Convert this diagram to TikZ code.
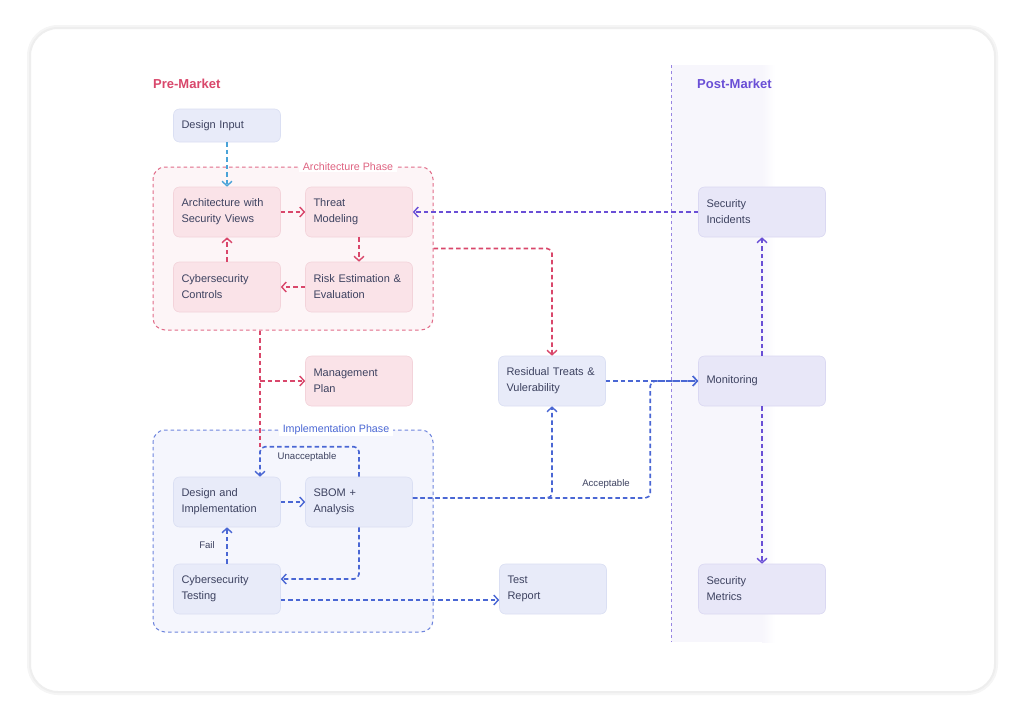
\documentclass[tikz,border=0pt]{standalone}
\usepackage{fontspec}
\setmainfont{Liberation Sans}
\usetikzlibrary{arrows.meta,positioning,calc}
\definecolor{txt}{HTML}{3D4260}
\definecolor{pinkln}{HTML}{D9476B}
\definecolor{bluln}{HTML}{4A67D4}
\definecolor{purln}{HTML}{6A4FD6}
\definecolor{skyln}{HTML}{4AA3D8}
\definecolor{pinkfill}{HTML}{FAE3E8}
\definecolor{pinkbord}{HTML}{F3D3DA}
\definecolor{bluefill}{HTML}{E8EBF9}
\definecolor{bluebord}{HTML}{DADFF3}
\definecolor{postfill}{HTML}{E8E7F8}
\definecolor{postbord}{HTML}{DAD8F2}
\definecolor{archbg}{HTML}{FDF5F7}
\definecolor{implbg}{HTML}{F5F6FD}
\definecolor{postbg}{HTML}{F7F6FC}
\definecolor{cardbord}{HTML}{EEEEEE}
\tikzset{
  nbox/.style={rounded corners=6pt, minimum height=50pt, text width=91pt, inner xsep=8pt, inner ysep=0pt,
     align=left, font=\fontsize{11}{16}\selectfont, text=txt, line width=0.6pt},
  pbox/.style={nbox, fill=pinkfill, draw=pinkbord},
  bbox/.style={nbox, fill=bluefill, draw=bluebord},
  wbox/.style={nbox, fill=postfill, draw=postbord, text width=111pt},
  phase/.style={rounded corners=12pt, dash pattern=on 3.5pt off 3pt, line width=1pt},
  conn/.style={dash pattern=on 4.5pt off 3pt, line width=1.6pt, -{Straight Barb[length=4.5pt,width=10pt,line width=1.4pt]}},
  connl/.style={dash pattern=on 4.5pt off 3pt, line width=1.6pt},
  small/.style={font=\fontsize{9.6}{11}\selectfont, text=txt, inner sep=1pt},
  phlabel/.style={font=\fontsize{10.7}{12}\selectfont, fill=white, inner xsep=4pt, inner ysep=1pt},
}
\begin{document}
\begin{tikzpicture}[x=1pt,y=-1pt]
\path[use as bounding box, fill=white] (0,0) rectangle (1024,720);
% card
\draw[draw=cardbord!60, line width=6pt, rounded corners=28pt] (30,28) rectangle (995,692);
\draw[draw=cardbord, fill=white, line width=2pt, rounded corners=28pt] (30,28) rectangle (995,692);
% post market band
\fill[postbg] (671,65) rectangle (762,642);
\shade[left color=postbg, right color=white] (762,65) rectangle (775,642);
\draw[purln!70, dash pattern=on 3pt off 3pt, line width=1pt] (671,65) -- (671,642);
% titles
\node[font=\bfseries\fontsize{13}{15}\selectfont, text=pinkln, anchor=west, inner sep=0pt] (pre) at (153,84) {Pre-Market};
\node[font=\bfseries\fontsize{13}{15}\selectfont, text=purln, anchor=west, inner sep=0pt] (post) at (697,84) {Post-Market};
% phases
\node[phase, draw=pinkln!80, fill=archbg, minimum width=280pt, minimum height=163pt] (archphase) at (293,248.5) {};
\node[phase, draw=bluln!80, fill=implbg, minimum width=280pt, minimum height=202pt] (implphase) at (293,531) {};
\node[phlabel, text=pinkln!85] (archlbl) at (348,167) {Architecture Phase};
\node[phlabel, text=bluln] (impllbl) at (336,430) {Implementation Phase};
% nodes
\node[bbox, minimum height=33pt] (desin) at (227,125.5) {Design Input};
\node[pbox] (archsv) at (227,212) {Architecture with\\Security Views};
\node[pbox] (threat) at (359,212) {Threat\\Modeling};
\node[pbox] (controls) at (227,287) {Cybersecurity\\Controls};
\node[pbox] (risk) at (359,287) {Risk Estimation \&\\Evaluation};
\node[pbox] (mgmt) at (359,381) {Management\\Plan};
\node[bbox] (desimpl) at (227,502) {Design and\\Implementation};
\node[bbox] (sbom) at (359,502) {SBOM +\\Analysis};
\node[bbox] (cstest) at (227,589) {Cybersecurity\\Testing};
\node[bbox] (testrep) at (553,589) {Test\\Report};
\node[bbox] (resid) at (552,381) {Residual Treats \&\\Vulerability};
\node[wbox] (secinc) at (762,212) {Security\\Incidents};
\node[wbox] (monitor) at (762,381) {Monitoring};
\node[wbox] (metrics) at (762,589) {Security\\Metrics};
\coordinate (dtop) at ([xshift=-20.8pt]desimpl.north east);
% connectors
\draw[conn, skyln] (desin.south) -- (archsv.north);
\draw[conn, pinkln] (archsv.east) -- (threat.west);
\draw[conn, pinkln] (threat.south) -- (risk.north);
\draw[conn, pinkln] (risk.west) -- (controls.east);
\draw[conn, pinkln] (controls.north) -- (archsv.south);
\draw[conn, purln] (secinc.west) -- (threat.east);
\draw[conn, pinkln, rounded corners=5pt] (archphase.east) -| (resid.north);
\draw[connl, pinkln] (archphase.south -| dtop) -- ([yshift=30pt]dtop);
\draw[conn, pinkln] (mgmt.west -| dtop) -- (mgmt.west);
\draw[conn, bluln, rounded corners=5pt] (sbom.north) |- ([yshift=30pt]dtop) -- (dtop);
\draw[conn, bluln] (desimpl.east) -- (sbom.west);
\draw[conn, bluln, rounded corners=5pt] ([yshift=4pt]sbom.east) -| (resid.south);
\draw[conn, bluln, rounded corners=5pt] ([yshift=4pt]sbom.east) -| ([xshift=-48pt]monitor.west) -- (monitor.west);
\draw[conn, bluln] (resid.east) -- (monitor.west);
\draw[conn, bluln, rounded corners=5pt] (sbom.south) |- ([yshift=10pt]cstest.east);
\draw[conn, bluln] (cstest.north) -- (desimpl.south);
\draw[conn, bluln] ([yshift=-11pt]cstest.east) -- ([yshift=-11pt]testrep.west);
\draw[conn, purln] (monitor.north) -- (secinc.south);
\draw[conn, purln] (monitor.south) -- (metrics.north);
% labels
\node[small] (unacc) at (307,457) {Unacceptable};
\node[small] (acc) at (606,484) {Acceptable};
\node[small] (fail) at (207,545) {Fail};
\end{tikzpicture}
\end{document}
